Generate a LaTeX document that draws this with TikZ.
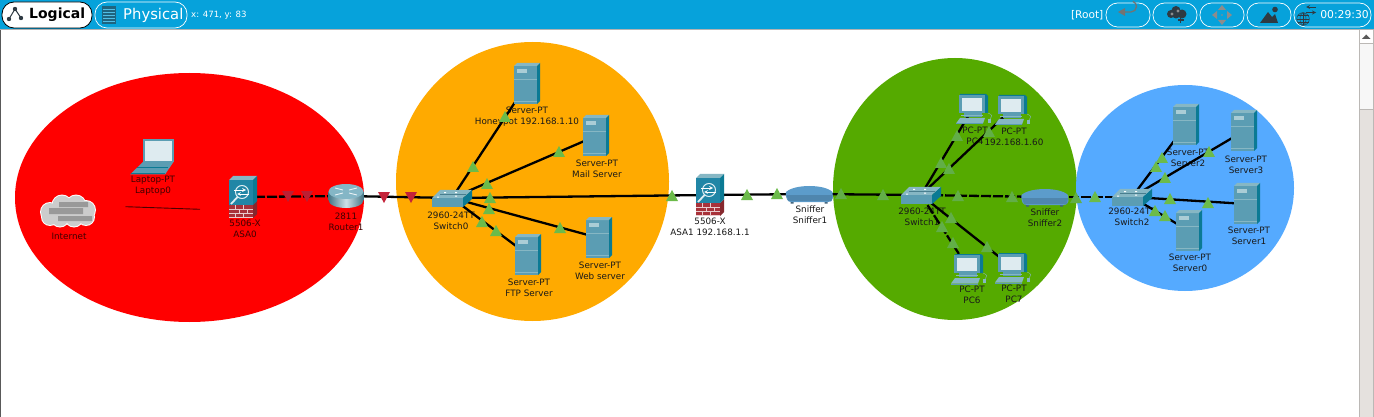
\documentclass[tikz,border=0pt]{standalone}
\usepackage{fontspec}
\setmainfont{DejaVu Sans}
\usetikzlibrary{calc}
\definecolor{barblue}{HTML}{06A2DB}
\definecolor{zred}{HTML}{FF0000}
\definecolor{zorange}{HTML}{FFAA00}
\definecolor{zgreen}{HTML}{55AA00}
\definecolor{zblue}{HTML}{55AAFF}
\definecolor{devtop}{HTML}{86B7C4}
\definecolor{devfront}{HTML}{5B9DB3}
\definecolor{devside}{HTML}{0B7A94}
\definecolor{brick}{HTML}{A8323A}
\definecolor{tealasa}{HTML}{2186A6}
\definecolor{sniff}{HTML}{5C9CCB}
\definecolor{sniffd}{HTML}{4F86AE}
\definecolor{tgreen}{HTML}{6CBB4A}
\definecolor{tgreenb}{HTML}{62AE48}
\definecolor{tred}{HTML}{C4233A}
\definecolor{tredb}{HTML}{BC1F33}
\definecolor{darkicon}{HTML}{2F3A42}
\definecolor{scrollbg}{HTML}{E5E1DE}
\definecolor{scrolledge}{HTML}{BBB8B5}
\tikzset{
  x=1pt,y=-1pt,
  link/.style={line width=2.3pt,black},
  dlink/.style={line width=2.3pt,black,dash pattern=on 10pt off 2pt},
  lbl/.style={font=\fontsize{8.8}{11}\selectfont,text=black!90,align=center,inner sep=0pt},
  lblr/.style={lbl,text=black!75!red},
  pillw/.style={draw=white,line width=.7pt,rounded corners=11.5pt},
  srv/.pic={
    \fill[devfront] (-13,-18) rectangle (10,20);
    \fill[devtop] (-13,-18)--(-10,-21)--(13,-21)--(10,-18)--cycle;
    \fill[devside] (10,-18)--(13,-21)--(13,17)--(10,20)--cycle;
    \fill[devtop!70!white] (-10,-15) rectangle (0,-11);
    \draw[devtop,line width=.5pt] (-13,-5)--(10,-5) (-13,17)--(10,17);
  },
  pcicon/.pic={
    \fill[devside] (-13,-14)--(13,-14)--(15,-12)--(15,5)--(-12,5)--cycle;
    \fill[devfront] (-14,-13) rectangle (12,5);
    \fill[white!80!devfront] (-11,-10) rectangle (9,3);
    \fill[devfront] (-9,5) rectangle (9,9);
    \draw[devtop,line width=.5pt] (-12,7.5)--(10,7.5);
    \fill[devtop] (-13,10)--(12,10)--(10,15.5)--(-17,15.5)--cycle;
    \fill[devfront] (-17,15.5) rectangle (10,16.5);
    \fill[devtop] (15,11) rectangle (18,15);
    \draw[devtop,line width=.4pt] (17,11)..controls (19,8) and (20,7)..(15,5);
  },
  laptopicon/.pic={
    \fill[devfront] (-10,-18) rectangle (20.5,5);
    \fill[white!80!devfront] (-8.5,-16) rectangle (18.5,4);
    \fill[devfront] (-23,17.5)--(12,17.5)--(20.5,5)--(-10,5)--cycle;
    \draw[devside,line width=.5pt] (-16,10)--(15,10) (-22,16.5)--(12,16.5);
  },
  asaicon/.pic={
    \fill[brick] (-14,8) rectangle (10,21);
    \fill[brick!80!black] (10,8)--(14,4)--(14,17)--(10,21)--cycle;
    \draw[white!75!brick,line width=.4pt] (-14,12)--(10,12) (-14,16)--(10,16) (-14,20)--(10,20);
    \draw[white!75!brick,line width=.4pt] (-8,8)--(-8,12) (0,8)--(0,12) (-4,12)--(-4,16) (4,12)--(4,16) (-8,16)--(-8,20) (0,16)--(0,20);
    \fill[tealasa] (-14,-17) rectangle (10,8);
    \fill[devtop] (-14,-17)--(-10,-21)--(14,-21)--(10,-17)--cycle;
    \fill[devside] (10,-17)--(14,-21)--(14,4)--(10,8)--cycle;
    \draw[white!85!tealasa,line width=1pt] (-1,-5) circle (6.5);
    \draw[white!85!tealasa,line width=1.8pt] (-5.5,0)--(-12,7);
    \draw[white,line width=.7pt,-stealth] (-9,-7)--(3,-7);
    \draw[white,line width=.7pt,-stealth] (6,-3)--(-6,-3);
  },
  routericon/.pic={
    \shade[left color=devfront!75!black,right color=devfront!75!black,middle color=white!70!devfront]
      (-17.5,-4.5) -- (-17.5,4) .. controls (-17.5,9) and (-9,12) .. (0,12) .. controls (9,12) and (17.5,9) .. (17.5,4) -- (17.5,-4.5) -- cycle;
    \fill[white!25!devfront] (0,-4.5) ellipse[x radius=17.5,y radius=7.5];
    \draw[white!85!devfront,line width=.9pt] (-11,-8)--(-3,-6) (11,-8)--(3,-6) (-11,-1)--(-3,-3) (11,-1)--(3,-3);
  },
  switchicon/.pic={
    \fill[devtop] (-20,0)--(11,0)--(20,-8)--(-12,-8)--cycle;
    \fill[devfront] (-20,0) rectangle (11,9);
    \fill[devside] (11,0)--(20,-8)--(20,1)--(11,9)--cycle;
    \fill[white] (-15,-1.5) rectangle (-13,-.5) (-8,-6) rectangle (-6,-5) (3,-6) rectangle (5,-5) (3,-2.5) rectangle (5,-1.5);
    \draw[devfront!80!black,line width=.4pt] (-12,-4)--(14,-4);
  },
  sniffericon/.pic={
    \fill[darkicon!60!sniff] (-19,7) rectangle (-16,9.5) (15,7) rectangle (18,9.5);
    \fill[sniff] (-23.5,-2) .. controls (-15,-10) and (15,-10) .. (23,-2) -- (23.5,4) .. controls (22,8) and (20,8) .. (18,8) -- (-18,8) .. controls (-22,8) and (-24,5) .. (-23.5,-2) -- cycle;
    \fill[sniffd] (-23,1) -- (23,1) -- (22,7) -- (-21,7) -- cycle;
  },
  cloudicon/.pic={
    \foreach \c/\d/\r in {-18/1/9,-6/-6/9.5,8/-6/9.5,18/-1/9,18/6/8,6/7/8.5,-8/7/8.5,-18/6/8}{
      \fill[white] (\c,\d) circle (\r+1);}
    \foreach \c/\d/\r in {-18/1/9,-6/-6/9.5,8/-6/9.5,18/-1/9,18/6/8,6/7/8.5,-8/7/8.5,-18/6/8}{
      \fill[black!20] (\c,\d) circle (\r);}
    \fill[black!40] (-9,-9) rectangle (20,-4) (-19,-3) rectangle (15,3) (-10,5) rectangle (24,10);
  },
}
\newcommand{\gtri}[3][tgreen]{\fill[#1] (#2,#3-6)--(#2+6,#3+5)--(#2-6,#3+5)--cycle;}
\newcommand{\rtri}[3][tred]{\fill[#1] (#2-6,#3-5)--(#2+6,#3-5)--(#2,#3+6)--cycle;}
\begin{document}
\begin{tikzpicture}
\useasboundingbox (0,0) rectangle (1374,417);
\fill[white] (0,0) rectangle (1374,417);
% zones
\fill[zred] (189.5,197.5) ellipse[x radius=174.5,y radius=124.5];
\fill[zorange] (532.5,181.5) ellipse[x radius=136.5,y radius=139.5];
\fill[zgreen] (955,189) ellipse[x radius=122,y radius=131];
\fill[zblue] (1185,188) ellipse[x radius=109,y radius=103];
% device positions
\coordinate (inet) at (68,211);
\coordinate (lap) at (153,157);
\coordinate (asa0) at (243,197);
\coordinate (r1) at (346,196);
\coordinate (sw0) at (452,198);
\coordinate (honey) at (527,84);
\coordinate (mail) at (596,136);
\coordinate (web) at (599,238);
\coordinate (ftp) at (528,255);
\coordinate (asa1) at (710,195);
\coordinate (sn1) at (809.5,194);
\coordinate (sw1) at (921,195);
\coordinate (pc4) at (973,108);
\coordinate (pc5) at (1012,109);
\coordinate (pc6) at (968,268);
\coordinate (pc7) at (1012,267);
\coordinate (sn2) at (1045,197);
\coordinate (sw2) at (1132,197);
\coordinate (srv2) at (1186,125);
\coordinate (srv3) at (1244,131);
\coordinate (srv1) at (1247,204);
\coordinate (srv0) at (1189,231);
\coordinate (stubA) at (125.5,206.7);
\coordinate (stubB) at (200,209.3);
% labels
\node[lblr] (l1) at (69,236) {Internet};
\node[lblr] (l2) at (153,186) {Laptop-PT\\Laptop0};
\node[lblr] (l3) at (245,229) {5506-X\\ASA0};
\node[lblr] (l4) at (346,221.5) {2811\\Router1};
\node[lbl] (l5) at (451,220.5) {2960-24TT\\Switch0};
\node[lbl] (l6) at (527,116.5) {Server-PT\\Honeypot 192.168.1.10};
\node[lbl] (l7) at (597,168.5) {Server-PT\\Mail Server};
\node[lbl] (l8) at (600,270.5) {Server-PT\\Web server};
\node[lbl] (l9) at (529,287.5) {Server-PT\\FTP Server};
\node[lbl] (l10) at (710,227) {5506-X\\ASA1 192.168.1.1};
\node[lbl] (l11) at (810,214.5) {Sniffer\\Sniffer1};
\node[lbl] (l12) at (922,216.5) {2960-24TT\\Switch1};
\node[lbl] (l13) at (975,135.5) {PC-PT\\PC4};
\node[lbl] (l14) at (1014,137) {PC-PT\\192.168.1.60};
\node[lbl] (l15) at (1045,217.5) {Sniffer\\Sniffer2};
\node[lbl] (l16) at (972,295) {PC-PT\\PC6};
\node[lbl] (l17) at (1014,293.5) {PC-PT\\PC7};
\node[lbl] (l18) at (1132,217) {2960-24TT\\Switch2};
\node[lbl] (l19) at (1188,157.5) {Server-PT\\Server2};
\node[lbl] (l20) at (1246,164.5) {Server-PT\\Server3};
\node[lbl] (l21) at (1249,236) {Server-PT\\Server1};
\node[lbl] (l22) at (1190,263) {Server-PT\\Server0};
% links
\draw[line width=.9pt,black!70!red] (stubA)--(stubB);
\draw[dlink] (asa0)--(r1);
\draw[link] (r1)--(sw0);
\draw[link] (sw0)--(asa1);
\draw[link] (sw0)--(honey);
\draw[link] (sw0)--(mail);
\draw[link] (sw0)--(web);
\draw[link] (sw0)--(ftp);
\draw[link] (asa1)--(sn1);
\draw[link] (sn1)--(sw1);
\draw[dlink] (sw1)--(sn2);
\draw[dlink] (sn2)--(sw2);
\draw[link] (sw1)--(pc4);
\draw[link] (sw1)--(pc5);
\draw[dlink] (sw1)--(pc6);
\draw[link] (sw1)--(pc7);
\draw[link] (sw2)--(srv2);
\draw[link] (sw2)--(srv3);
\draw[link] (sw2)--(srv1);
\draw[link] (sw2)--(srv0);
% devices
\pic at (inet) {cloudicon};
\pic at (lap) {laptopicon};
\pic at (asa0) {asaicon};
\pic at (r1) {routericon};
\pic at (sw0) {switchicon};
\pic at (honey) {srv};
\pic at (mail) {srv};
\pic at (web) {srv};
\pic at (ftp) {srv};
\pic at (asa1) {asaicon};
\pic at (sn1) {sniffericon};
\pic at (sw1) {switchicon};
\pic at (pc4) {pcicon};
\pic at (pc5) {pcicon};
\pic at (pc6) {pcicon};
\pic at (pc7) {pcicon};
\pic at (sn2) {sniffericon};
\pic at (sw2) {switchicon};
\pic at (srv2) {srv};
\pic at (srv3) {srv};
\pic at (srv1) {srv};
\pic at (srv0) {srv};
% link lights
\rtri[tredb]{288}{196}\rtri[tredb]{307}{196}\rtri{384}{197}\rtri{411}{197}
\gtri{505}{117}\gtri{473}{167}\gtri{559}{152}\gtri{487}{184}\gtri{490}{198}\gtri{489}{209}\gtri{482}{222}\gtri{496}{231}\gtri{560}{228}
\gtri{672}{196}\gtri{747}{195}\gtri{777}{194}
\gtri[tgreenb]{841}{194}\gtri[tgreenb]{883}{195}
\gtri[tgreenb]{957}{136}\gtri[tgreenb]{989}{132}\gtri[tgreenb]{941}{163}\gtri[tgreenb]{949}{169}\gtri[tgreenb]{958}{196}\gtri[tgreenb]{1012}{197}\gtri[tgreenb]{1076}{198}
\gtri[tgreenb]{951}{218}\gtri[tgreenb]{942}{227}\gtri[tgreenb]{953}{243}\gtri[tgreenb]{987}{247}
\gtri{1095}{197}\gtri{1162}{158}\gtri{1156}{167}\gtri{1209}{152}\gtri{1165}{178}\gtri{1170}{199}\gtri{1208}{203}\gtri{1155}{211}\gtri{1165}{216}
% window frame
\fill[black!65] (0,29) rectangle (1,417);
\fill[scrollbg] (1359,30) rectangle (1374,417);
\fill[white] (1359,30) rectangle (1373,43);
\fill[black!65] (1362,39)--(1370.5,39)--(1366.2,34.5)--cycle;
\fill[black!3] (1359,43) rectangle (1373,109);
\draw[scrolledge,line width=.8pt] (1359.4,30)--(1359.4,417) (1373.4,30)--(1373.4,417) (1359,43)--(1374,43) (1359,109)--(1374,109);
% toolbar
\fill[barblue] (0,0) rectangle (1374,29);
\fill[black!30] (0,29) rectangle (1374,30);
\fill[white,draw=black,line width=.8pt,rounded corners=12pt] (2,2) rectangle (92,28);
\draw[darkicon,line width=1pt] (9,19)--(15,9)--(21,18);
\fill[darkicon] (9,19) circle (2.2) (15,9) circle (2.2) (21,18) circle (2.2);
\node[font=\bfseries\fontsize{14}{16}\selectfont,inner sep=0pt,anchor=west] (tlog) at (29,15) {Logical};
\draw[pillw,rounded corners=12pt] (95,2) rectangle (187,28);
\fill[darkicon!60!barblue] (102,6) rectangle (116,24);
\foreach \yy in {9,12,15,18,21} {\draw[barblue!70!white,line width=.9pt] (103,\yy)--(115,\yy);}
\node[font=\fontsize{14.8}{16}\selectfont,text=white,inner sep=0pt,anchor=west] (tphy) at (123,15) {Physical};
\node[font=\fontsize{8.6}{10}\selectfont,text=white,inner sep=0pt,anchor=west] (tpos) at (191,15) {x: 471, y: 83};
\node[font=\fontsize{10.6}{12}\selectfont,text=white,inner sep=0pt,anchor=east] (troot) at (1103.5,15) {[Root]};
\draw[pillw] (1106,3) rectangle (1150,27);
\draw[pillw] (1153,3) rectangle (1197,27);
\draw[pillw] (1200,3) rectangle (1244,27);
\draw[pillw] (1247,3) rectangle (1291,27);
\draw[pillw] (1294,3) rectangle (1371,27);
% back
\draw[black!55,line width=1.3pt] (1122,12)--(1131,12) arc[start angle=90,end angle=-70,radius=5.5];
\fill[black!55] (1118,12)--(1125,8)--(1125,16)--cycle;
% cloud add
\fill[darkicon] (1171,14) circle (4) (1176,10.5) circle (4.5) (1182,14) circle (4.5) (1176,15) circle (3.5);
\fill[black!45] (1172,14) circle (1.7) (1178,11) circle (1.7);
\draw[darkicon,line width=1.2pt] (1180.5,17)--(1180.5,23) (1177.5,20)--(1183.5,20);
% pan
\fill[black!45] (1222,5)--(1226,10)--(1218,10)--cycle (1222,25)--(1226,20)--(1218,20)--cycle (1212,15)--(1217,11)--(1217,19)--cycle (1232,15)--(1227,11)--(1227,19)--cycle (1222,15) circle (.8);
% picture
\fill[darkicon] (1260,23)--(1268,12)--(1272,17)--(1275,14)--(1278,23)--cycle;
\fill[darkicon] (1275,9.5) circle (2.8);
% globe
\draw[darkicon,line width=.5pt] (1303,19) circle (6.3);
\draw[darkicon,line width=.5pt] (1296.7,19)--(1309.3,19) (1303,12.7)--(1303,25.3) (1297.5,15.5)--(1308.5,15.5) (1297.5,22.5)--(1308.5,22.5);
\draw[darkicon,line width=.5pt] (1303,19) ellipse[x radius=3,y radius=6.3];
\draw[darkicon,line width=.8pt,-stealth] (1316,7)--(1306,7);
\draw[darkicon,line width=.8pt,-stealth] (1306,12.5)--(1316,12.5);
\node[font=\fontsize{10.8}{12}\selectfont,text=white,inner sep=0pt,anchor=east] (tclk) at (1369,15) {00:29:30};
\end{tikzpicture}
\end{document}
